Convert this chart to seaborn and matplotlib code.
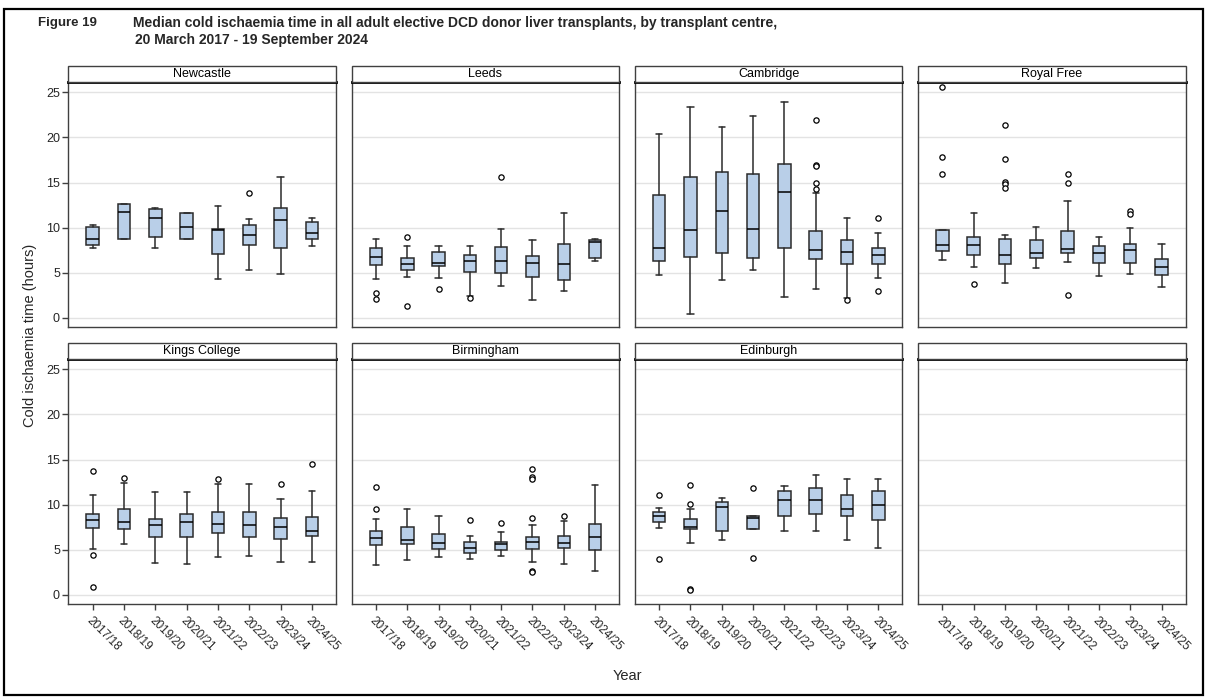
import numpy as np
import pandas as pd
import matplotlib
matplotlib.use("Agg")
import matplotlib.pyplot as plt
from matplotlib.patches import Rectangle
import seaborn as sns

# ---------------- data ----------------
YEARS = ["2017/18", "2018/19", "2019/20", "2020/21", "2021/22", "2022/23", "2023/24", "2024/25"]
CENTRES = ["Newcastle", "Leeds", "Cambridge", "Royal Free", "Kings College", "Birmingham", "Edinburgh"]

newcastle_lo = [7.8, 8.8, 7.8, 8.7, 4.3, 5.3, 4.9, 8.0]
newcastle_q1 = [8.1, 8.8, 9.0, 8.7, 7.1, 8.1, 7.7, 8.8]
newcastle_med = [8.8, 11.7, 11.1, 10.1, 9.7, 9.2, 10.8, 9.4]
newcastle_q3 = [10.1, 12.6, 12.1, 11.6, 9.9, 10.3, 12.2, 10.6]
newcastle_hi = [10.3, 12.6, 12.2, 11.6, 12.4, 11.0, 15.6, 11.1]
newcastle_out = [[], [], [], [], [], [13.8], [], []]

leeds_lo = [4.3, 4.5, 4.4, 2.4, 3.5, 2.0, 3.0, 6.3]
leeds_q1 = [5.9, 5.3, 5.8, 5.1, 5.0, 4.5, 4.2, 6.6]
leeds_med = [6.7, 6.0, 6.1, 6.3, 6.3, 6.1, 6.0, 8.4]
leeds_q3 = [7.8, 6.6, 7.3, 7.0, 7.9, 6.9, 8.2, 8.6]
leeds_hi = [8.7, 8.0, 8.0, 8.0, 9.9, 8.6, 11.6, 8.8]
leeds_out = [[2.8, 2.1], [9.0, 1.3], [3.2], [2.2], [15.6], [], [], []]

cambridge_lo = [4.8, 0.4, 4.2, 5.3, 2.3, 3.2, 2.2, 4.4]
cambridge_q1 = [6.3, 6.8, 7.2, 6.6, 7.7, 6.5, 6.0, 6.0]
cambridge_med = [7.7, 9.7, 11.8, 9.8, 14.0, 7.5, 7.3, 7.0]
cambridge_q3 = [13.6, 15.6, 16.2, 16.0, 17.1, 9.6, 8.6, 7.7]
cambridge_hi = [20.4, 23.4, 21.2, 22.4, 23.9, 13.8, 11.1, 9.4]
cambridge_out = [[], [], [], [], [], [21.9, 16.9, 16.8, 15.0, 14.3], [2.0], [11.1, 3.0]]

royalfree_lo = [6.4, 5.7, 3.9, 5.5, 6.2, 4.7, 4.9, 3.4]
royalfree_q1 = [7.4, 7.0, 6.0, 6.6, 7.2, 6.1, 6.1, 4.8]
royalfree_med = [8.1, 8.1, 7.0, 7.2, 7.6, 7.2, 7.5, 5.7]
royalfree_q3 = [9.7, 9.0, 8.8, 8.6, 9.6, 8.0, 8.2, 6.5]
royalfree_hi = [9.7, 11.6, 9.2, 10.1, 13.0, 9.0, 10.0, 8.2]
royalfree_out = [[25.6, 17.8, 16.0], [3.8], [21.4, 17.6, 15.1, 14.8, 14.4], [],
                 [16.0, 15.0, 2.6], [], [11.8, 11.5], []]

kings_lo = [5.1, 5.7, 3.5, 3.4, 4.2, 4.3, 3.7, 3.6]
kings_q1 = [7.4, 7.3, 6.4, 6.4, 6.9, 6.4, 6.2, 6.5]
kings_med = [8.3, 8.1, 7.8, 8.1, 7.9, 7.8, 7.5, 7.1]
kings_q3 = [9.0, 9.5, 8.4, 9.0, 9.2, 9.2, 8.5, 8.6]
kings_hi = [11.1, 12.4, 11.4, 11.4, 12.3, 12.3, 10.6, 11.5]
kings_out = [[13.7, 4.4, 0.9], [13.0], [], [], [12.8], [], [12.3], [14.5]]

birmingham_lo = [3.3, 3.9, 4.2, 4.0, 4.3, 3.7, 3.4, 2.7]
birmingham_q1 = [5.5, 5.7, 5.1, 4.7, 5.0, 5.1, 5.2, 5.0]
birmingham_med = [6.3, 6.1, 5.8, 5.2, 5.6, 5.9, 5.8, 6.4]
birmingham_q3 = [7.1, 7.5, 6.7, 5.9, 5.9, 6.4, 6.5, 7.9]
birmingham_hi = [8.4, 9.5, 8.8, 6.5, 7.0, 7.8, 8.2, 12.2]
birmingham_out = [[12.0, 9.5], [], [], [8.3], [8.0], [13.9, 13.1, 12.8, 8.5, 2.7, 2.6], [8.7], []]

edinburgh_lo = [7.4, 5.8, 6.1, 7.3, 7.1, 7.1, 6.1, 5.2]
edinburgh_q1 = [8.1, 7.3, 7.1, 7.3, 8.7, 9.0, 8.8, 8.3]
edinburgh_med = [8.8, 7.5, 9.7, 8.5, 10.5, 10.5, 9.5, 10.0]
edinburgh_q3 = [9.2, 8.4, 10.3, 8.7, 11.5, 11.9, 11.1, 11.5]
edinburgh_hi = [9.6, 9.5, 10.7, 8.7, 12.1, 13.3, 12.9, 12.8]
edinburgh_out = [[11.1, 4.0], [12.2, 10.1, 0.7, 0.5], [], [11.8, 4.1], [], [], [], []]

Y_TICKS = [0, 5, 10, 15, 20, 25]

# ---------------- assemble a tidy table ----------------
series = [
    (newcastle_lo, newcastle_q1, newcastle_med, newcastle_q3, newcastle_hi, newcastle_out),
    (leeds_lo, leeds_q1, leeds_med, leeds_q3, leeds_hi, leeds_out),
    (cambridge_lo, cambridge_q1, cambridge_med, cambridge_q3, cambridge_hi, cambridge_out),
    (royalfree_lo, royalfree_q1, royalfree_med, royalfree_q3, royalfree_hi, royalfree_out),
    (kings_lo, kings_q1, kings_med, kings_q3, kings_hi, kings_out),
    (birmingham_lo, birmingham_q1, birmingham_med, birmingham_q3, birmingham_hi, birmingham_out),
    (edinburgh_lo, edinburgh_q1, edinburgh_med, edinburgh_q3, edinburgh_hi, edinburgh_out),
]
rows = []
for centre, (lo, q1, med, q3, hi, out) in zip(CENTRES, series):
    for i, yr in enumerate(YEARS):
        rows.append(dict(centre=centre, year=yr, pos=i, lo=lo[i], q1=q1[i],
                         med=med[i], q3=q3[i], hi=hi[i], out=out[i]))
df = pd.DataFrame(rows)

# ---------------- style ----------------
sns.set_theme(style="white")
plt.rcParams['font.family'] = ['Liberation Sans', 'DejaVu Sans']

BOX_FILL = "#B9CFE8"
EDGE = "#2b2b2b"


def draw_boxes(data, **kws):
    ax = plt.gca()
    stats = [dict(whislo=r.lo, q1=r.q1, med=r.med, q3=r.q3, whishi=r.hi,
                  fliers=np.asarray(r.out, dtype=float), label=r.year)
             for r in data.itertuples()]
    ax.bxp(stats, positions=list(data["pos"]), widths=0.4, patch_artist=True,
           manage_ticks=False,
           boxprops=dict(facecolor=BOX_FILL, edgecolor=EDGE, linewidth=1.1),
           medianprops=dict(color="black", linewidth=1.1),
           whiskerprops=dict(color=EDGE, linewidth=1.1),
           capprops=dict(color=EDGE, linewidth=1.1),
           flierprops=dict(marker="o", markersize=3.8, markerfacecolor="white",
                           markeredgecolor="black", markeredgewidth=0.9, linestyle="none"))


g = sns.FacetGrid(df, col="centre", col_wrap=4, col_order=CENTRES + [" "],
                  sharex=True, sharey=True, height=2.4, aspect=1.1, despine=False)
g.map_dataframe(draw_boxes)
g.set_titles("")
g.set_axis_labels("", "")

fig = g.figure
fig.set_size_inches(12.07, 6.97)
fig.subplots_adjust(left=0.0566, right=0.9823, top=0.8819, bottom=0.1334,
                    wspace=0.058, hspace=0.132)

titles = CENTRES + [""]
strip_h = 16.5 / 244.5
for k, ax in enumerate(g.axes.flat):
    ax.set_xlim(-0.78, 7.77)
    ax.set_ylim(-1.0, 26.1)
    ax.set_yticks(Y_TICKS)
    ax.set_xticks(range(len(YEARS)))
    ax.set_axisbelow(True)
    ax.yaxis.grid(True, color="#e3e3e3", linewidth=1.0)
    ax.xaxis.grid(False)
    for side in ["left", "right", "bottom"]:
        ax.spines[side].set_color("#404040")
        ax.spines[side].set_linewidth(1.0)
    ax.spines["top"].set_color("black")
    ax.spines["top"].set_linewidth(2.0)
    col = k % 4
    row = k // 4
    ax.tick_params(axis="y", left=(col == 0), labelleft=(col == 0), length=4,
                   width=1, color="#404040", direction="out", labelsize=9, pad=2)
    ax.tick_params(axis="x", bottom=(row == 1), labelbottom=(row == 1), length=4,
                   width=1, color="#404040", direction="out", labelsize=8.5, pad=4)
    if row == 1:
        ax.set_xticklabels(YEARS, rotation=-45, ha="left", va="top",
                           rotation_mode="anchor")
    # facet strip
    ax.add_patch(Rectangle((0, 1), 1, strip_h, transform=ax.transAxes, clip_on=False,
                           facecolor="white", edgecolor="#404040", linewidth=1.0, zorder=5))
    ax.text(0.5, 1 + strip_h / 2, titles[k], transform=ax.transAxes, ha="center",
            va="center", fontsize=9, color="black", zorder=6)

fig.text(0.0249, 0.519, "Cold ischaemia time (hours)", rotation=90, ha="center",
         va="center", fontsize=10.5)
fig.text(0.520, 0.030, "Year", ha="center", va="center", fontsize=10.5)

fig.text(38 / 1207, 1 - 23 / 697, "Figure 19", ha="left", va="center",
         fontsize=9.5, fontweight="bold")
fig.text(133 / 1207, 1 - 23 / 697,
         "Median cold ischaemia time in all adult elective DCD donor liver transplants, by transplant centre,",
         ha="left", va="center", fontsize=10, fontweight="bold")
fig.text(135 / 1207, 1 - 40 / 697, "20 March 2017 - 19 September 2024", ha="left",
         va="center", fontsize=10, fontweight="bold")

fig.add_artist(Rectangle((4 / 1207, 1 - 695 / 697), 1199 / 1207, 686 / 697,
                         transform=fig.transFigure, fill=False, edgecolor="black",
                         linewidth=1.6))

fig.savefig("out.png", dpi=100)
